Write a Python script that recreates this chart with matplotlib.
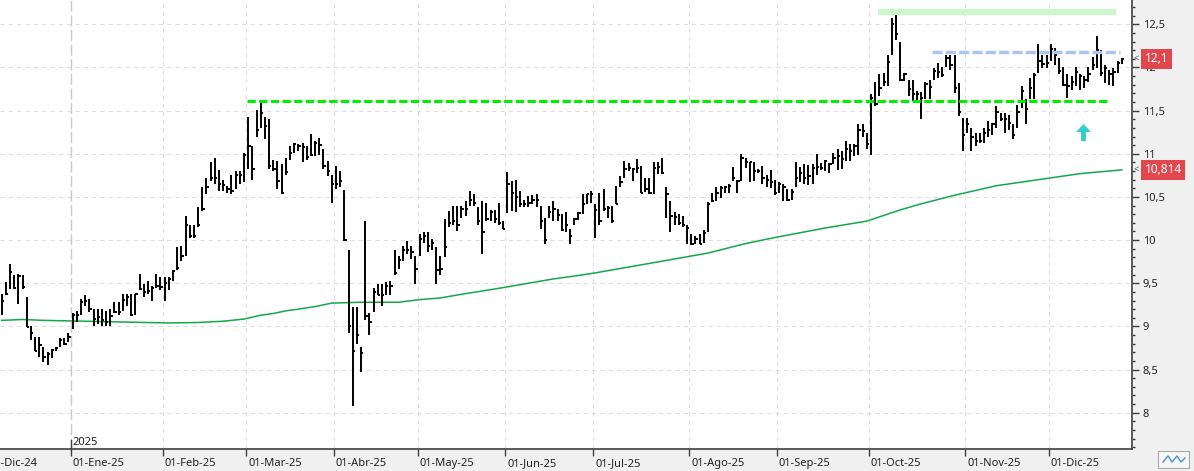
import numpy as np
import pandas as pd
import matplotlib
matplotlib.use("Agg")
import matplotlib.pyplot as plt
from matplotlib.collections import LineCollection
from matplotlib.patches import Rectangle
from matplotlib.path import Path
from matplotlib.ticker import FuncFormatter
import matplotlib.transforms as mtransforms

plt.rcParams['font.family'] = ['Noto Sans', 'DejaVu Sans']
plt.rcParams['lines.scale_dashes'] = False

# Trading calendar (Spanish market), first row of the calendar is 02-Dic-24
holidays = ['2024-12-25', '2024-12-26', '2025-01-01', '2025-04-18', '2025-04-21', '2025-05-01']
calendar = pd.bdate_range('2024-12-02', '2025-12-24', freq='C', holidays=holidays)
first_bar = 3  # data starts on 05-Dic-24

month_names = ['Ene', 'Feb', 'Mar', 'Abr', 'May', 'Jun', 'Jul', 'Ago', 'Sep', 'Oct', 'Nov', 'Dic']

# Daily bars: high / low / close
high = [
    9.38, 9.51, 9.72, 9.59, 9.61, 9.59, 9.34, 9.01, 8.88, 8.88, 8.76, 8.70, 8.74, 8.76, 8.86, 8.86, 8.92,
    9.15, 9.18, 9.32, 9.36, 9.32, 9.20, 9.20, 9.20, 9.18, 9.20, 9.28, 9.28, 9.38, 9.38, 9.38, 9.38, 9.61,
    9.49, 9.53, 9.47, 9.61, 9.57,
    9.57, 9.57, 9.65, 9.92, 9.93, 10.28, 10.18, 10.17, 10.38, 10.61, 10.72, 10.90, 10.95, 10.81, 10.70,
    10.63, 10.76, 10.80, 10.80, 11.01,
    11.43, 11.09, 11.51, 11.61, 11.43, 11.40, 10.93, 10.92, 10.88, 10.95, 11.09, 11.13, 11.11, 11.13,
    11.09, 11.23, 11.15, 11.18, 11.05, 10.92, 10.76,
    10.86, 10.80, 10.58, 9.88, 9.22, 9.22, 8.76, 10.22, 9.15, 9.45, 9.49, 9.49, 9.51, 9.53, 9.88, 9.82,
    9.93, 9.99, 9.93, 9.82,
    10.07, 10.09, 10.09, 10.01, 9.92, 9.82, 10.24, 10.34, 10.40, 10.40, 10.40, 10.45, 10.57, 10.53,
    10.38, 10.45, 10.43, 10.35, 10.35, 10.43, 10.22,
    10.79, 10.68, 10.70, 10.57, 10.47, 10.51, 10.52, 10.53, 10.40, 10.26, 10.40, 10.45, 10.36, 10.30,
    10.32, 10.13, 10.26, 10.33, 10.53, 10.53, 10.57,
    10.42, 10.55, 10.59, 10.40, 10.40, 10.63, 10.74, 10.92, 10.89, 10.84, 10.94, 10.86, 10.72, 10.72,
    10.91, 10.91, 10.95, 10.61, 10.45, 10.33, 10.30, 10.28, 10.17,
    10.07, 10.05, 10.07, 10.12, 10.44, 10.55, 10.61, 10.63, 10.63, 10.65, 10.85, 10.70, 11.00, 10.95,
    10.91, 10.90, 10.82, 10.86, 10.76, 10.81, 10.70,
    10.67, 10.65, 10.59, 10.59, 10.90, 10.85, 10.88, 10.87, 10.88, 11.00, 10.89, 10.93, 10.89, 11.01,
    11.06, 11.03, 11.15, 11.11, 11.11, 11.35, 11.35, 11.24,
    11.69, 11.83, 11.92, 11.94, 12.15, 12.57, 12.62, 12.29, 11.94, 11.86, 11.86, 11.73, 11.72, 11.83,
    11.86, 11.99, 12.05, 12.01, 12.15, 12.15, 12.15, 11.82, 11.42,
    11.42, 11.30, 11.24, 11.24, 11.30, 11.38, 11.36, 11.55, 11.47, 11.47, 11.45, 11.34, 11.57, 11.78,
    11.63, 11.88, 11.94, 12.27, 12.15, 12.15,
    12.27, 12.23, 12.11, 12.01, 11.92, 11.90, 12.01, 11.92, 11.90, 12.01, 12.12, 12.36, 12.20, 12.03,
    11.97, 11.99, 12.07, 12.11,
]
low = [
    9.13, 9.36, 9.43, 9.43, 9.26, 9.43, 8.99, 8.84, 8.72, 8.65, 8.59, 8.55, 8.63, 8.72, 8.76, 8.78, 8.82,
    8.97, 9.05, 9.13, 9.24, 9.17, 9.01, 9.03, 9.01, 9.01, 9.01, 9.15, 9.13, 9.18, 9.24, 9.12, 9.13, 9.42,
    9.34, 9.38, 9.30, 9.45, 9.42,
    9.30, 9.42, 9.53, 9.65, 9.76, 9.82, 10.03, 10.03, 10.15, 10.34, 10.53, 10.68, 10.65, 10.57, 10.57,
    10.55, 10.53, 10.59, 10.65, 10.67,
    10.82, 10.70, 11.20, 11.30, 11.17, 10.82, 10.80, 10.59, 10.53, 10.76, 10.93, 11.01, 11.03, 10.90,
    10.93, 10.97, 10.97, 10.99, 10.82, 10.74, 10.43,
    10.59, 10.61, 9.99, 8.92, 8.08, 8.80, 8.47, 9.07, 8.90, 9.17, 9.36, 9.24, 9.36, 9.36, 9.59, 9.67,
    9.76, 9.84, 9.78, 9.49,
    9.82, 9.97, 9.86, 9.88, 9.49, 9.59, 9.80, 10.15, 10.18, 10.11, 10.26, 10.28, 10.40, 10.40,
    10.18, 9.84, 10.22, 10.22, 10.20, 10.18, 10.13,
    10.31, 10.34, 10.33, 10.38, 10.38, 10.38, 10.42, 10.38, 10.13, 9.95, 10.26, 10.22, 10.22, 10.11,
    10.09, 9.95, 10.17, 10.23, 10.30, 10.42, 10.43,
    10.03, 10.17, 10.34, 10.26, 10.20, 10.42, 10.61, 10.72, 10.80, 10.69, 10.78, 10.54, 10.56, 10.53,
    10.53, 10.77, 10.77, 10.26, 10.09, 10.17, 10.18, 10.15, 9.95,
    9.94, 9.95, 9.95, 9.97, 10.09, 10.44, 10.45, 10.49, 10.54, 10.55, 10.68, 10.55, 10.69, 10.84,
    10.67, 10.68, 10.78, 10.65, 10.61, 10.60, 10.52,
    10.54, 10.45, 10.45, 10.47, 10.62, 10.67, 10.65, 10.64, 10.65, 10.75, 10.81, 10.80, 10.78, 10.88,
    10.81, 10.82, 10.92, 10.92, 10.97, 10.99, 11.20, 11.05,
    10.99, 11.55, 11.67, 11.78, 11.78, 12.15, 12.32, 11.84, 11.84, 11.67, 11.61, 11.61, 11.40, 11.63,
    11.63, 11.85, 11.88, 11.89, 12.01, 11.97, 11.71, 11.44, 11.03,
    11.24, 11.03, 11.09, 11.13, 11.13, 11.20, 11.22, 11.30, 11.38, 11.24, 11.28, 11.17, 11.30, 11.53,
    11.34, 11.63, 11.63, 11.94, 11.99, 11.99,
    12.07, 12.03, 11.92, 11.78, 11.65, 11.74, 11.78, 11.74, 11.76, 11.83, 11.97, 11.99, 11.90, 11.82,
    11.80, 11.78, 11.94, 12.04,
]
close = [
    9.30, 9.37, 9.63, 9.45, 9.58, 9.46, 8.99, 8.92, 8.72, 8.78, 8.65, 8.68, 8.73, 8.75, 8.84, 8.80, 8.88,
    9.13, 9.13, 9.28, 9.29, 9.20, 9.09, 9.11, 9.07, 9.05, 9.12, 9.17, 9.17, 9.31, 9.34, 9.13, 9.38, 9.43,
    9.40, 9.41, 9.45, 9.47, 9.46,
    9.50, 9.55, 9.64, 9.68, 9.82, 10.18, 10.05, 10.05, 10.17, 10.36, 10.62, 10.72, 10.72, 10.65, 10.64,
    10.59, 10.57, 10.75, 10.76, 10.99,
    11.09, 10.82, 11.28, 11.47, 11.32, 10.86, 10.82, 10.68, 10.55, 10.79, 11.01, 11.11, 11.09, 11.08,
    10.96, 10.99, 11.13, 11.10, 10.86, 10.80, 10.65,
    10.65, 10.68, 10.00, 9.01, 8.72, 8.90, 8.69, 9.12, 9.05, 9.40, 9.36, 9.36, 9.47, 9.47, 9.62, 9.77,
    9.88, 9.88, 9.86, 9.67,
    10.01, 10.05, 9.93, 9.97, 9.65, 9.67, 9.92, 10.20, 10.22, 10.18, 10.36, 10.36, 10.47, 10.43,
    10.22, 10.09, 10.24, 10.32, 10.24, 10.20, 10.13,
    10.65, 10.55, 10.50, 10.42, 10.42, 10.43, 10.46, 10.47, 10.22, 10.00, 10.32, 10.36, 10.29, 10.12,
    10.18, 10.05, 10.24, 10.31, 10.42, 10.53, 10.53,
    10.35, 10.22, 10.36, 10.37, 10.22, 10.42, 10.67, 10.82, 10.83, 10.82, 10.84, 10.55, 10.59, 10.54,
    10.84, 10.85, 10.78, 10.53, 10.28, 10.27, 10.20, 10.17, 10.14,
    9.95, 10.01, 9.95, 10.08, 10.42, 10.45, 10.55, 10.60, 10.61, 10.63, 10.72, 10.69, 10.95, 10.90,
    10.90, 10.80, 10.80, 10.72, 10.70, 10.67, 10.55,
    10.65, 10.62, 10.47, 10.56, 10.72, 10.78, 10.72, 10.74, 10.84, 10.85, 10.84, 10.92, 10.88, 10.95,
    10.97, 10.94, 11.05, 11.03, 11.09, 11.27, 11.26, 11.11,
    11.65, 11.58, 11.76, 11.83, 12.06, 12.50, 12.39, 11.86, 11.92, 11.75, 11.69, 11.69, 11.65, 11.81,
    11.77, 11.96, 11.95, 11.91, 12.11, 12.03, 11.76, 11.49, 11.22,
    11.34, 11.19, 11.15, 11.15, 11.24, 11.28, 11.34, 11.49, 11.40, 11.40, 11.36, 11.22, 11.49, 11.73,
    11.52, 11.76, 11.91, 12.07, 12.04, 12.05,
    12.22, 12.15, 11.96, 11.80, 11.78, 11.83, 11.95, 11.90, 11.86, 11.92, 12.03, 12.20, 11.94, 11.99,
    11.92, 11.95, 12.05, 12.10,
]

# 200-session moving average, read at a few bar positions
sma_pos = [0, 5, 10, 20, 30, 40, 47, 53, 58, 62, 65, 68, 71, 75, 79, 86, 95, 100, 105, 111, 115, 120,
           126, 132, 138, 142, 155, 169, 178, 185, 197, 207, 215, 220, 228, 238, 248, 258, 268]
sma_val = [9.07, 9.08, 9.07, 9.06, 9.05, 9.04, 9.045, 9.06, 9.085, 9.13, 9.15, 9.18, 9.20, 9.23, 9.27,
           9.28, 9.28, 9.31, 9.33, 9.38, 9.41, 9.45, 9.50, 9.55, 9.59, 9.62, 9.73, 9.85, 9.96, 10.03,
           10.14, 10.22, 10.35, 10.42, 10.52, 10.63, 10.70, 10.77, 10.814]

# Drawn levels (price, from-bar, to-bar)
support_level, support_span = 11.61, (58.6, 264.8)
resistance_level, resistance_span = 12.176, (222.6, 267.6)
top_level, top_span = 12.643, (209.7, 266.6)
arrow_bar, arrow_price = 258.6, 11.258

n = len(close)
x = np.arange(n)

W, H = 1194, 471
fig = plt.figure(figsize=(W / 100, H / 100), dpi=100, facecolor='#f0f0f0')
ax = fig.add_axes([0, 21.7 / H, 1131.7 / W, 449.3 / H])
ax.set_facecolor('white')
xlim = (-0.383, 270.36)
ylim = (7.576, 12.782)

# month positions on the session axis
cal = pd.Series(calendar)
month_first = cal.groupby([cal.dt.year, cal.dt.month]).head(1)
month_pos = [i - first_bar - 0.5 for i in month_first.index]
month_lab = [f"01-{month_names[d.month - 1]}-{d.strftime('%y')}" for d in month_first]

# grid
for y in np.arange(8, 12.51, 0.5):
    ax.axhline(y, color='#dddddd', lw=0.75, dashes=(3, 3), zorder=0)
for p, d in zip(month_pos, month_first):
    if d.month == 1:
        ax.axvline(p, color='#c8c8c8', lw=1.0, dashes=(8, 2.5), zorder=0)
    else:
        ax.axvline(p, color='#dddddd', lw=0.75, dashes=(3, 3), zorder=0)

# moving average
ax.plot(sma_pos, sma_val, color='#13a84a', lw=1.1, zorder=2)

# bars
segs = [[(xi, lo), (xi, hi)] for xi, lo, hi in zip(x, low, high)]
segs += [[(xi, c), (xi + 0.55, c)] for xi, c in zip(x, close)]
ax.add_collection(LineCollection(segs, colors='black', linewidths=1.4, zorder=3))

# levels
ax.plot(top_span, [top_level] * 2, color='#ccf7cc', lw=4.3, solid_capstyle='butt', zorder=4)
ax.plot(resistance_span, [resistance_level] * 2, color='#a9c7ea', lw=2.5,
        dashes=(7.2, 2.4), dash_capstyle='butt', zorder=4)
ax.plot(support_span, [support_level] * 2, color='#00ee00', lw=2.2,
        dashes=(6.0, 2.4), dash_capstyle='butt', zorder=4)

# up arrow
arrow = Path([(0, 1), (0.88, 0.06), (0.29, 0.06), (0.29, -1), (-0.29, -1), (-0.29, 0.06),
              (-0.88, 0.06), (0, 1)], closed=True)
ax.plot([arrow_bar], [arrow_price], marker=arrow, markersize=12.2, color='#35cccc',
        markeredgewidth=0, zorder=5)

# right price axis
ax.yaxis.tick_right()
ax.set_yticks(np.arange(8, 12.51, 0.5))
ax.set_yticks(np.round(np.arange(7.6, 12.75, 0.1), 1), minor=True)
ax.yaxis.set_major_formatter(FuncFormatter(lambda v, p: f'{v:g}'.replace('.', ',')))
ax.tick_params(axis='y', which='major', length=5, width=1, color='#404040', pad=3,
               labelsize=8, labelcolor='#222222')
ax.tick_params(axis='y', which='minor', length=2.5, width=1, color='#404040')

# bottom time axis (only ticks inside the view)
ax.set_xticks([p for p in month_pos if p > xlim[0]])
ax.set_xticklabels([])
ax.tick_params(axis='x', length=5, width=1, color='#404040')
ax.set_xlim(*xlim)
ax.set_ylim(*ylim)
for s in ['top', 'left']:
    ax.spines[s].set_visible(False)
for s in ['right', 'bottom']:
    ax.spines[s].set_color('#404040')
    ax.spines[s].set_linewidth(1.2)

lab_tr = mtransforms.blended_transform_factory(ax.transData, fig.transFigure)
shift = mtransforms.ScaledTranslation(2 / 100, 0, fig.dpi_scale_trans)
for p, lab, d in zip(month_pos, month_lab, month_first):
    ax.text(p, 5.3 / H, lab, transform=lab_tr + shift, fontsize=8, color='#222222',
            ha='left', va='baseline', clip_on=False)
    if d.month == 1 and d.year == 2025:
        ax.text(p, 26 / H, '2025', transform=lab_tr + shift, fontsize=8, color='#222222',
                ha='left', va='baseline', clip_on=False)
        ax.plot([p, p], [0, 9.3 / 449.3], transform=ax.get_xaxis_transform(),
                color='#404040', lw=1, clip_on=False)

# last value labels
yt = ax.get_yaxis_transform()
for val, txt in [(close[-1], f'{close[-1]:g}'.replace('.', ',')),
                 (sma_val[-1], f'{sma_val[-1]:g}'.replace('.', ','))]:
    ax.text(1.0113, val, txt, transform=yt, color='white', fontsize=8.5, ha='left', va='center',
            bbox=dict(boxstyle='square,pad=0.3', fc='#e2474e', ec='none'), clip_on=False, zorder=10)
    ax.text(1.0016, val, '<', transform=yt, color='#555555', fontsize=6.5, ha='left', va='center',
            clip_on=False, zorder=10)

# small corner button
fig.add_artist(Rectangle((1158 / W, 3 / H), 31 / W, 17 / H, transform=fig.transFigure,
                         fc='#f7f7f7', ec='#a8a8a8', lw=0.8))
fig.add_artist(plt.Line2D(np.array([1163, 1168, 1172, 1177, 1181, 1185]) / W,
                          np.array([9, 15, 9, 15, 9, 13]) / H, transform=fig.transFigure,
                          color='#4a90d9', lw=1))

fig.savefig('out.png', dpi=100, facecolor=fig.get_facecolor())
